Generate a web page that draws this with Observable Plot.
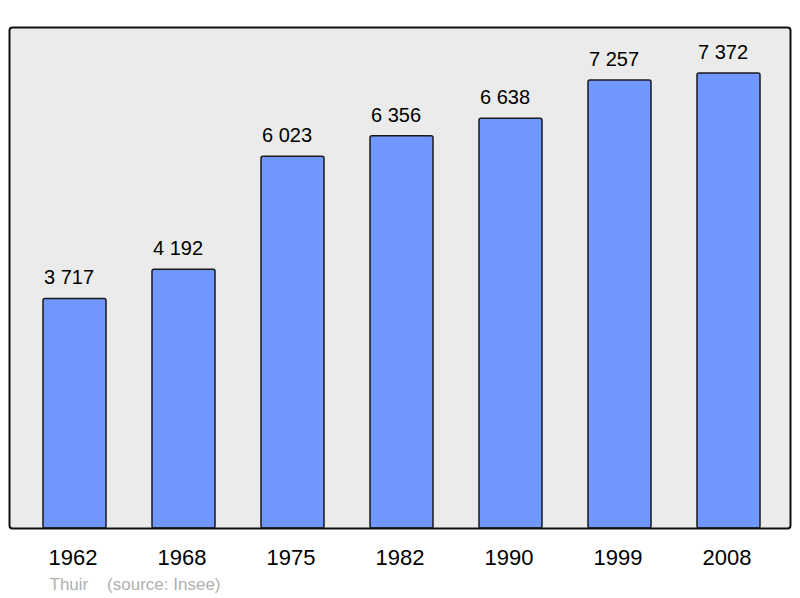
<!DOCTYPE html>
<html>
<head>
<meta charset="utf-8">
<script src="https://cdn.jsdelivr.net/npm/d3@7"></script>
<script src="https://cdn.jsdelivr.net/npm/@observablehq/plot@0.6"></script>
<style>
  html, body { margin: 0; padding: 0; background: #fff; }
</style>
</head>
<body>
<div id="chart"></div>
<script>
const years = ["1962", "1968", "1975", "1982", "1990", "1999", "2008"];
const population = [3717, 4192, 6023, 6356, 6638, 7257, 7372];
const captionText = "Thuir\u00a0\u00a0\u00a0\u00a0(source: Insee)";

const data = years.map((y, i) => ({year: y, value: population[i]}));
const fmt = v => d3.format(",")(v).replace(/,/g, " ");

const chart = Plot.plot({
  width: 800,
  height: 598,
  marginTop: 27,
  marginBottom: 70,
  marginLeft: 9,
  marginRight: 10,
  style: {fontFamily: "'Liberation Sans', Arial, sans-serif", background: "#fff", color: "#000"},
  x: {domain: years, range: [42, 761.7], paddingInner: 0.42, paddingOuter: 0, label: null},
  y: {domain: [0, 8117], axis: null},
  marks: [
    Plot.frame({fill: "#ebebeb", rx: 3}),
    Plot.barY(data, {x: "year", y: "value", fill: "#7097ff", stroke: "#1a1a1a", strokeWidth: 1.5, rx: 2}),
    Plot.text(data, {x: "year", y: "value", text: d => fmt(d.value), dy: -21, dx: -6, fontSize: 20, fill: "#000", lineAnchor: "middle"}),
    Plot.axisX({tickSize: 0, tickPadding: 21, dx: -2, fontSize: 22, label: null, fill: "#000"}),
    Plot.frame({stroke: "#111", strokeWidth: 2, rx: 3}),
    Plot.text([captionText], {frameAnchor: "bottom-left", dx: 40, dy: 56.5, text: d => d, fontSize: 17, fill: "#b0b0b0", textAnchor: "start", lineAnchor: "middle"})
  ]
});
document.getElementById("chart").appendChild(chart);
</script>
</body>
</html>
